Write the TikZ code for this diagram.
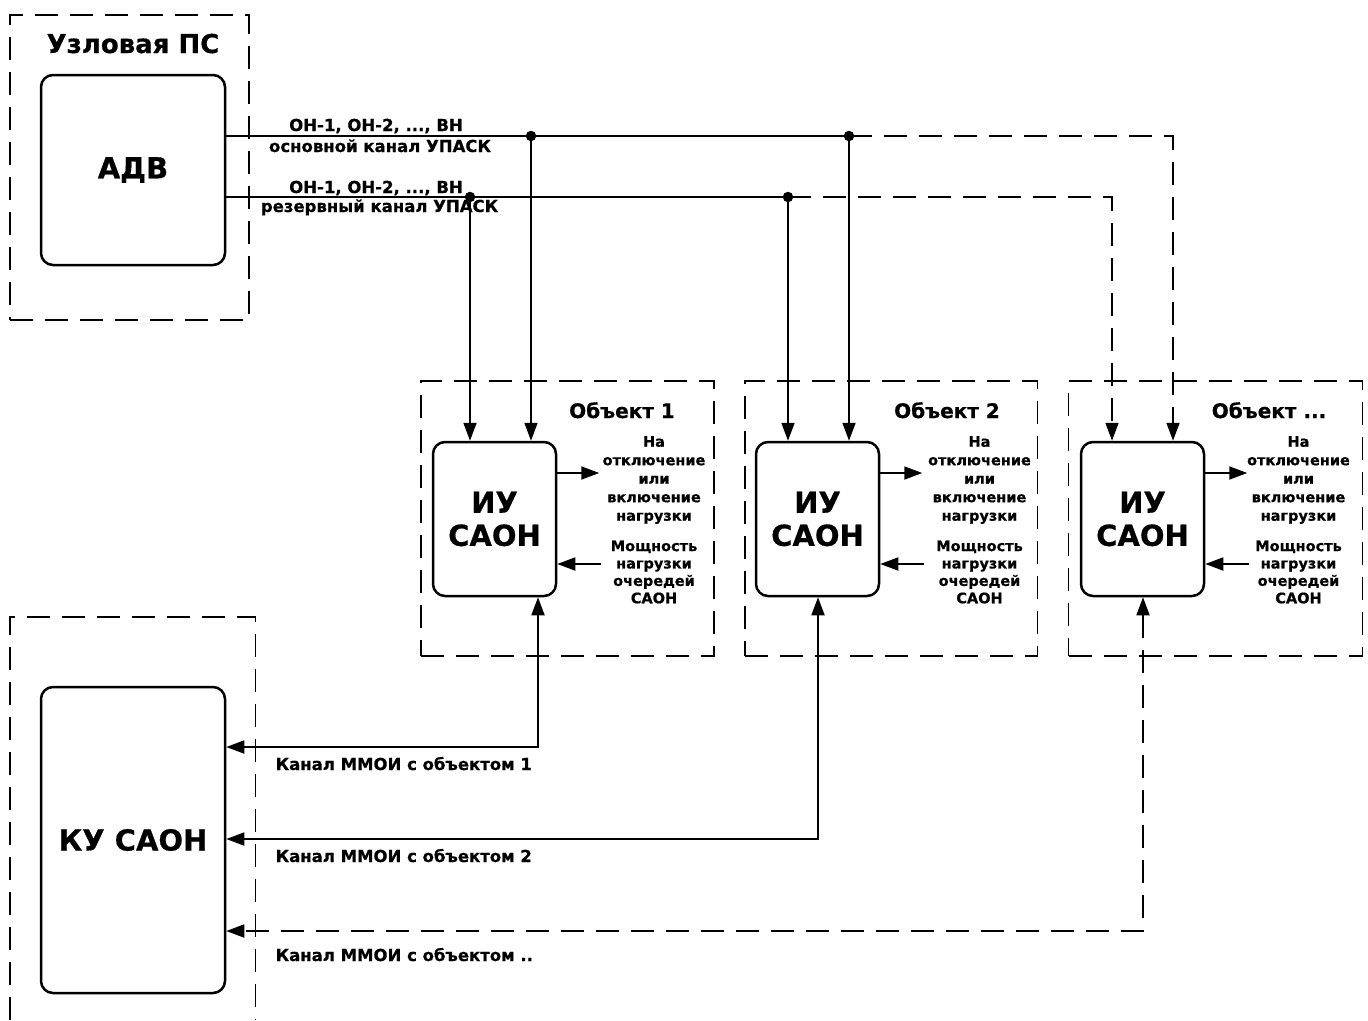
\documentclass[tikz,border=0pt]{standalone}
\usepackage{fontspec}
\setmainfont{DejaVu Sans}[BoldFeatures={FakeBold=0.6}]
\usetikzlibrary{arrows.meta,calc}
\begin{document}
\begin{tikzpicture}[x=1pt,y=-1pt,
  >={Triangle[length=18pt,width=13pt]},
  conn/.style={line width=1.8pt},
  dconn/.style={line width=1.8pt, dash pattern=on 23pt off 12pt},
  dbox/.style={draw, line width=1.8pt, dash pattern=on 23pt off 12pt},
  rbox/.style={draw, line width=2.5pt, rounded corners=12pt, align=center, inner sep=0pt, font=\fontsize{29}{33}\selectfont\bfseries},
  lbl/.style={inner sep=0pt, font=\fontsize{16.5}{20}\selectfont\bfseries},
  ttl/.style={inner sep=0pt, anchor=base, font=\fontsize{20}{24}\selectfont\bfseries},
  side/.style={inner sep=0pt, align=center, font=\fontsize{14.5}{18.5}\selectfont\bfseries},
  side2/.style={inner sep=0pt, align=center, font=\fontsize{14.5}{17.4}\selectfont\bfseries},
  dot/.style={circle, fill, inner sep=0pt, minimum size=10.5pt}
]
\useasboundingbox (0,0) rectangle (1368,1020);

% containers
\node[dbox, minimum width=239pt, minimum height=305pt] (ps) at (129.5,167.5) {};
\node[inner sep=0pt, anchor=base, font=\fontsize{26}{30}\selectfont\bfseries] (pst) at (133,53) {Узловая ПС};
\node[dbox, minimum width=293pt, minimum height=275pt] (ob1) at (567.5,518.5) {};
\node[dbox, minimum width=292.5pt, minimum height=275pt] (ob2) at (891.25,518.5) {};
\node[dbox, minimum width=294pt, minimum height=275pt] (ob3) at (1215.5,518.5) {};
\draw[dbox] (10,1020) -- (10,617) -- (255.5,617) -- (255.5,1020);

\node[ttl] (ob1t) at (622,418) {Объект 1};
\node[ttl] (ob2t) at (947,418) {Объект 2};
\node[ttl] (ob3t) at (1269,418) {Объект ...};

% main blocks
\node[rbox, minimum width=184pt, minimum height=190pt] (adv) at (133,170) {АДВ};
\node[rbox, minimum width=123pt, minimum height=154pt] (iu1) at (494.5,519) {ИУ\\САОН};
\node[rbox, minimum width=123pt, minimum height=154pt] (iu2) at (817.5,519) {ИУ\\САОН};
\node[rbox, minimum width=123pt, minimum height=154pt] (iu3) at (1142.5,519) {ИУ\\САОН};
\node[rbox, minimum width=184pt, minimum height=306pt] (ku) at (133,840) {КУ САОН};

% bus lines
\coordinate (j1) at (531,136);
\coordinate (j2) at (849,136);
\coordinate (e1) at (1173,136);
\coordinate (k1) at (470,197);
\coordinate (k2) at (788,197);
\coordinate (e2) at (1112,197);

\draw[conn] (adv.east |- j1) -- (j2);
\draw[dconn,->] (j2) -- (e1) -- (e1 |- iu3.north);
\draw[conn,->] (j1) -- (j1 |- iu1.north);
\draw[conn,->] (j2) -- (j2 |- iu2.north);
\draw[conn] (adv.east |- k1) -- (k2);
\draw[dconn,->] (k2) -- (e2) -- (e2 |- iu3.north);
\draw[conn,->] (k1) -- (k1 |- iu1.north);
\draw[conn,->] (k2) -- (k2 |- iu2.north);
\node[dot] (dj1) at (j1) {};
\node[dot] (dj2) at (j2) {};
\node[dot] (dk1) at (k1) {};
\node[dot] (dk2) at (k2) {};

\node[lbl, anchor=base] (l1a) at (376,131) {ОН-1, ОН-2, ..., ВН};
\node[lbl, anchor=base] (l1b) at (380,152) {основной канал УПАСК};
\node[lbl, anchor=base] (l2a) at (376,193) {ОН-1, ОН-2, ..., ВН};
\node[lbl, anchor=base] (l2b) at (379.5,212) {резервный канал УПАСК};

% side signals
\foreach \i/\cx in {1/654,2/979.5,3/1298.5}{
  \coordinate (o\i) at ($(iu\i.east |- 0,473)+(42,0)$);
  \coordinate (n\i) at ($(iu\i.east |- 0,564)+(44,0)$);
  \draw[conn,->] (iu\i.east |- o\i) -- (o\i);
  \draw[conn,->] (n\i) -- (n\i -| iu\i.east);
  \node[side] (sa\i) at (\cx,480) {На\\отключение\\или\\включение\\нагрузки};
  \node[side2] (sb\i) at (\cx,572) {Мощность\\нагрузки\\очередей\\САОН};
}

% MMOI channels
\coordinate (m1) at (538,747);
\coordinate (m2) at (818,839);
\coordinate (m3) at (1143,931);
\draw[conn,<->] (m1 |- iu1.south) -- (m1) -- (m1 -| ku.east);
\draw[conn,<->] (m2 |- iu2.south) -- (m2) -- (m2 -| ku.east);
\draw[dconn,<->] (m3 |- iu3.south) -- (m3) -- (m3 -| ku.east);

\node[lbl, anchor=base west] (c1) at (275.5,770) {Канал ММОИ с объектом 1};
\node[lbl, anchor=base west] (c2) at (275.5,862) {Канал ММОИ с объектом 2};
\node[lbl, anchor=base west] (c3) at (275.5,961) {Канал ММОИ с объектом ..};
\end{tikzpicture}
\end{document}
